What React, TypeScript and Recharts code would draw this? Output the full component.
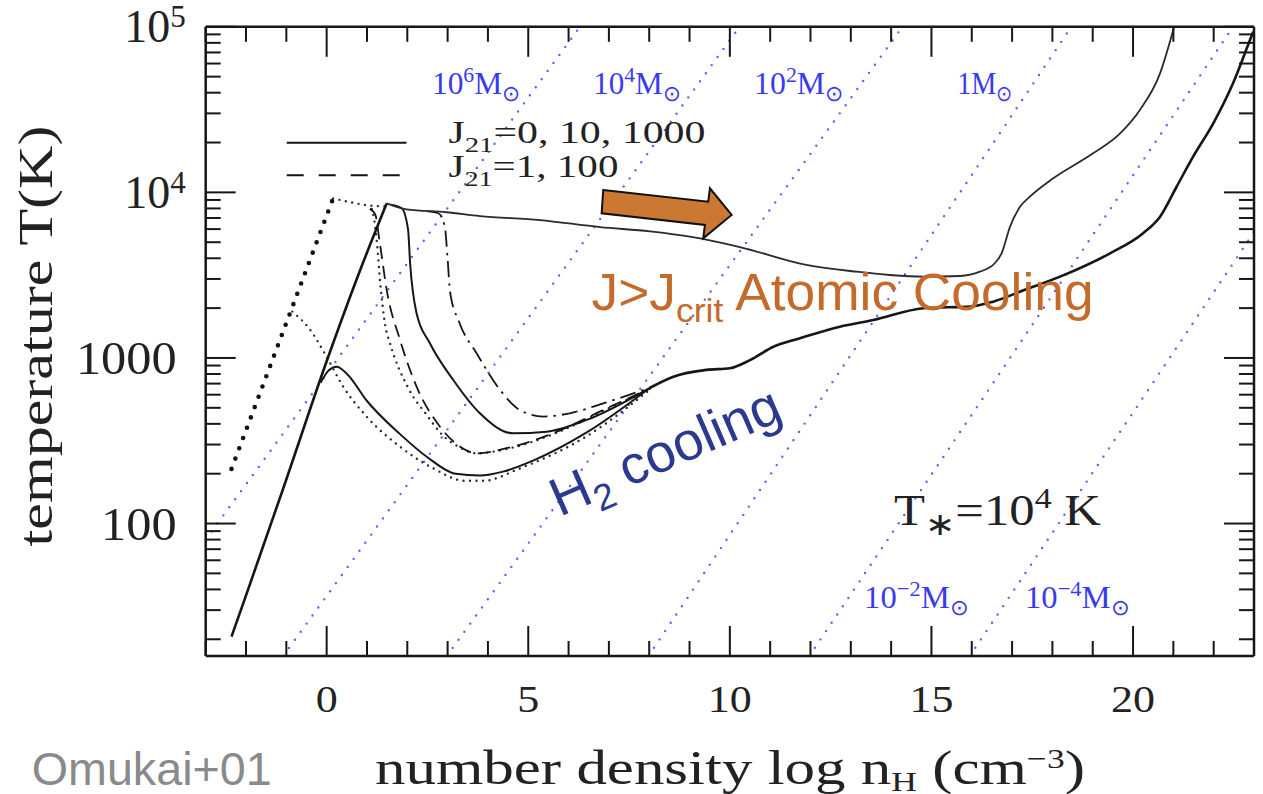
import React from 'react';
import { LineChart, Line, XAxis, YAxis, ReferenceDot } from 'recharts';

// Omukai+01 cooling tracks: x = log n_H [cm^-3], y = log T [K]
const SERIF = "'Liberation Serif', 'Times New Roman', serif";
const SANS = "'Liberation Sans', Arial, sans-serif";
const INK = '#161616';
const TEXT = '#222';
const MASS_TEXT = '#3a3af0';
const MASS_LINE = '#5f5fff';
const ORANGE = '#c46a2b';
const ARROW = '#cb7833';
const NAVY = '#2b3a8e';

// shared collapse from low density up to the ~8000 K peak
const riseCurve = [[-2.36, 1.317], [-1.98, 1.58], [-1.08, 2.21], [0, 2.98], [0.83, 3.53], [1.49, 3.934]];
// J21 = 1000 : stays atomic
const atomicJ1000 = [
  [1.49, 3.934], [1.98, 3.898], [2.97, 3.88], [3.8, 3.857], [5.29, 3.833], [6.78, 3.79], [8.02, 3.765],
  [9.01, 3.733], [10.25, 3.67], [11.9, 3.562], [13.14, 3.521], [13.97, 3.501], [14.8, 3.491], [15.71, 3.495],
  [16.2, 3.521], [16.57, 3.572], [16.74, 3.632], [16.95, 3.793], [17.2, 3.914], [17.44, 3.974], [18.02, 4.085],
  [19.01, 4.236], [19.68, 4.357], [20.17, 4.498], [20.67, 4.719], [21.02, 5.0],
];
// J21 = 0
const j0Solid = [
  [-0.15, 2.85], [0.05, 2.925], [0.25, 2.947], [0.5, 2.905], [1.0, 2.74], [1.82, 2.54], [2.5, 2.4],
  [3.2, 2.3], [3.8, 2.29], [4.4, 2.315], [5.12, 2.38], [6.45, 2.55], [8.02, 2.82],
];
// J21 = 10
const j10Solid = [
  [1.6, 3.925], [1.86, 3.904], [2.02, 3.773], [2.07, 3.572], [2.23, 3.27], [2.56, 3.089], [3.14, 2.867],
  [3.8, 2.666], [4.63, 2.545], [5.46, 2.555], [6.45, 2.626], [8.02, 2.82],
];
// J21 = 1 (dashed)
const j1Dashed = [
  [1.07, 3.9], [1.2, 3.87], [1.32, 3.692], [1.49, 3.41], [1.82, 3.109], [2.23, 2.827], [2.81, 2.585],
  [3.31, 2.464], [3.72, 2.424], [4.46, 2.455], [5.62, 2.545], [6.86, 2.686], [8.02, 2.817],
];
// J21 = 100 (dash-dot)
const j100DashDot = [
  [2.5, 3.886], [2.77, 3.874], [2.93, 3.793], [3.0, 3.6], [3.06, 3.4], [3.28, 3.22], [3.72, 3.028],
  [4.3, 2.807], [4.79, 2.686], [5.37, 2.646], [6.03, 2.666], [6.86, 2.726], [8.02, 2.82],
];
// dotted tracks
const thickDotted = [[-2.36, 2.33], [-0.91, 3.27], [0.16, 3.964]];
const dottedTop = [[0.16, 3.964], [0.6, 3.94], [0.99, 3.923], [1.45, 3.915]];
const dottedDrop = [
  [1.12, 3.9], [1.17, 3.85], [1.24, 3.712], [1.33, 3.45], [1.45, 3.2], [1.57, 3.09], [2.02, 2.82],
  [2.5, 2.65], [2.85, 2.54], [3.3, 2.46], [3.72, 2.424], [4.46, 2.45], [5.62, 2.54], [6.86, 2.68], [8.02, 2.815],
];
const dottedLow = [
  [-0.85, 3.28], [-0.41, 3.17], [0, 3.007], [0.41, 2.827], [0.99, 2.646], [1.82, 2.464], [2.64, 2.334],
  [3.43, 2.258], [3.88, 2.258], [4.78, 2.332], [6.42, 2.523], [8.02, 2.81],
];
// converged track at high density
const lowerCommon = [
  [8.02, 2.82], [8.6, 2.887], [9.42, 2.928], [10.0, 2.938], [10.5, 2.987], [11.08, 3.068], [11.74, 3.119],
  [12.73, 3.189], [13.56, 3.229], [14.8, 3.3], [15.4, 3.306], [15.95, 3.31], [16.53, 3.34], [17.3, 3.41],
  [18.19, 3.491], [19.43, 3.632], [20.25, 3.753], [20.67, 3.853], [21.08, 4.034], [21.49, 4.216],
  [21.99, 4.417], [22.48, 4.659], [22.9, 4.92], [22.98, 4.97],
];

// constant Jeans mass lines (endpoints on the frame)
const massLines = [
  [[-3, 1.903], [6.28, 5]],
  [[-1.08, 1.2], [10.24, 5]],
  [[2.98, 1.2], [14.28, 5]],
  [[7.98, 1.2], [18.47, 5]],
  [[11.97, 1.2], [22.48, 5]],
  [[15.95, 1.2], [23, 3.76]],
];
const massLabels = [
  { x: 2.61, y: 4.594, mant: '10', exp: '6', w: 88 },
  { x: 6.61, y: 4.594, mant: '10', exp: '4', w: 87 },
  { x: 10.6, y: 4.594, mant: '10', exp: '2', w: 89 },
  { x: 15.64, y: 4.594, mant: '1', exp: '', w: 55 },
  { x: 13.33, y: 1.489, mant: '10', exp: '\u22122', w: 104 },
  { x: 17.32, y: 1.489, mant: '10', exp: '\u22124', w: 104 },
];

const legendSolid = [[-0.99, 4.3], [1.98, 4.3]];
const legendDashed = [[-0.99, 4.103], [1.9, 4.103]];

const xTicks = Array.from({ length: 27 }, (_, i) => i - 3);
const xMajor = [0, 5, 10, 15, 20];
const yMajor = [2, 3, 4, 5];
const yMinor = [1, 2, 3, 4]
  .flatMap((d) => [2, 3, 4, 5, 6, 7, 8, 9].map((k) => d + Math.log10(k)))
  .filter((v) => v > 1.2);
const yTicks = [...yMinor, ...yMajor].sort((a, b) => a - b);

const pts = (a: number[][]) => a.map(([x, y]) => ({ x, y }));
const isMajorY = (v: number) => Math.abs(v - Math.round(v)) < 1e-6;

function BottomTick(p: any) {
  const v = p.payload.value;
  const major = xMajor.includes(v);
  const s = String(v);
  return (
    <g>
      <line x1={p.x} x2={p.x} y1={p.y} y2={p.y - (major ? 30 : 15)} stroke={INK} strokeWidth={2} />
      {major && (
        <text x={p.x} y={p.y + 56} textAnchor="middle" fontFamily={SERIF} fontSize={38} fill={TEXT}
          textLength={22 * s.length} lengthAdjust="spacingAndGlyphs">{s}</text>
      )}
    </g>
  );
}

function TopTick(p: any) {
  const major = xMajor.includes(p.payload.value);
  return <line x1={p.x} x2={p.x} y1={p.y} y2={p.y + (major ? 30 : 15)} stroke={INK} strokeWidth={2} />;
}

function LeftTick(p: any) {
  const v = p.payload.value;
  const major = isMajorY(v);
  let label = null;
  if (major) {
    const d = Math.round(v);
    if (d >= 4) {
      label = (
        <text x={p.x - 20} y={p.y + 15.5} textAnchor="end" fontFamily={SERIF} fontSize={46} fill={TEXT}>
          10<tspan dy={-15} fontSize={31}>{d}</tspan>
        </text>
      );
    } else {
      const s = d === 3 ? '1000' : '100';
      label = (
        <text x={p.x - 29} y={p.y + 16} textAnchor="end" fontFamily={SERIF} fontSize={46} fill={TEXT}
          textLength={25.2 * s.length} lengthAdjust="spacingAndGlyphs">{s}</text>
      );
    }
  }
  return (
    <g>
      <line x1={p.x} x2={p.x + (major ? 30 : 15)} y1={p.y} y2={p.y} stroke={INK} strokeWidth={2} />
      {label}
    </g>
  );
}

function RightTick(p: any) {
  const major = isMajorY(p.payload.value);
  return <line x1={p.x} x2={p.x - (major ? 30 : 15)} y1={p.y} y2={p.y} stroke={INK} strokeWidth={2} />;
}

const curve = (key: string, data: number[][], style: any) => (
  <Line key={key} data={pts(data)} dataKey="y" type="monotone" dot={false} activeDot={false}
    isAnimationActive={false} legendType="none" {...style} />
);

const anno = (key: string, x: number, y: number, render: (cx: number, cy: number) => any) => (
  <ReferenceDot key={key} x={x} y={y} r={0} ifOverflow="visible" shape={(p: any) => render(p.cx, p.cy)} />
);

const solid = (w: number) => ({ stroke: INK, strokeWidth: w });
const dots = (w: number, gap: number, color = '#2a2a2a') => ({
  stroke: color, strokeWidth: w, strokeDasharray: `0 ${gap}`, strokeLinecap: 'round',
});

export default function App() {
  return (
    <div style={{ position: 'absolute', left: 0, top: 0, width: 1263, height: 794, background: '#fff' }}>
      <LineChart width={1263} height={794} margin={{ top: 25.8, right: 8, bottom: 137, left: 204.7 }}>
        <XAxis dataKey="x" type="number" domain={[-3, 23]} allowDataOverflow ticks={xTicks} interval={0}
          height={1} tickSize={0} tickMargin={0} tickLine={false}
          axisLine={{ stroke: INK, strokeWidth: 2.5 }} tick={(p: any) => <BottomTick {...p} />} />
        <XAxis xAxisId="top" orientation="top" dataKey="x" type="number" domain={[-3, 23]} allowDataOverflow
          ticks={xTicks} interval={0} height={1} tickSize={0} tickMargin={0} tickLine={false}
          axisLine={{ stroke: INK, strokeWidth: 2.5 }} tick={(p: any) => <TopTick {...p} />} />
        <YAxis type="number" domain={[1.2, 5]} allowDataOverflow ticks={yTicks} interval={0} width={1}
          tickSize={0} tickMargin={0} tickLine={false} axisLine={{ stroke: INK, strokeWidth: 2.5 }}
          tick={(p: any) => <LeftTick {...p} />} />
        <YAxis yAxisId="right" orientation="right" type="number" domain={[1.2, 5]} allowDataOverflow
          ticks={yTicks} interval={0} width={1} tickSize={0} tickMargin={0} tickLine={false}
          axisLine={{ stroke: INK, strokeWidth: 2.5 }} tick={(p: any) => <RightTick {...p} />} />

        {/* text annotations */}
        {anno('titles', -3, 1.2, (cx, cy) => (
          <g>
            <text x={cx + 169.3} y={cy + 128} fontFamily={SERIF} fontSize={48} fill={TEXT}
              textLength={710} lengthAdjust="spacingAndGlyphs">
              number density log n<tspan dy={7} fontSize={28}>H</tspan>
              <tspan dy={-7}> (cm</tspan><tspan dy={-16} fontSize={28}>{'\u22123'}</tspan>
              <tspan dy={16}>)</tspan>
            </text>
            <text x={cx - 174} y={cy + 129} fontFamily={SANS} fontSize={46} fill="#8a8a8a"
              textLength={240} lengthAdjust="spacingAndGlyphs">Omukai+01</text>
            <text transform={`translate(${cx - 154},${cy - 320}) rotate(-90)`} textAnchor="middle"
              fontFamily={SERIF} fontSize={48} fill={TEXT} textLength={421} lengthAdjust="spacingAndGlyphs">
              temperature T(K)
            </text>
          </g>
        ))}
        {anno('hot', 6.57, 3.29, (cx, cy) => (
          <text x={cx} y={cy} fontFamily={SANS} fontSize={51} fill={ORANGE} textLength={502}
            lengthAdjust="spacingAndGlyphs">
            J&gt;J<tspan dy={12} fontSize={34}>crit</tspan><tspan dy={-12}> Atomic Cooling</tspan>
          </text>
        ))}
        {anno('h2', 5.78, 2.04, (cx, cy) => (
          <text x={cx} y={cy} transform={`rotate(-23.5 ${cx} ${cy})`} fontFamily={SANS} fontSize={54} fill={NAVY}>
            H<tspan dy={12} fontSize={37}>2</tspan><tspan dy={-12}> cooling</tspan>
          </text>
        ))}
        {anno('arrow', 6.82, 3.942, (cx, cy) => (
          <polygon
            points={[[1.6, -12], [106.6, -0.3], [108.3, -13.7], [130, 13], [101.6, 36.3], [103.3, 23], [0, 11.3]]
              .map(([dx, dy]) => `${cx + dx},${cy + dy}`).join(' ')}
            fill={ARROW} stroke="#111" strokeWidth={2} strokeLinejoin="miter" />
        ))}
        {anno('tstar', 14.07, 1.992, (cx, cy) => (
          <text x={cx} y={cy} fontFamily={SERIF} fontSize={45} fill={TEXT} textLength={207}
            lengthAdjust="spacingAndGlyphs">
            T<tspan dy={10} fontSize={32}>{'\u2217'}</tspan><tspan dy={-10}>=10</tspan>
            <tspan dy={-17} fontSize={30}>4</tspan><tspan dy={17}> K</tspan>
          </text>
        ))}
        {anno('leg1', 3.02, 4.298, (cx, cy) => (
          <text x={cx} y={cy} fontFamily={SERIF} fontSize={32} fill={TEXT} textLength={257}
            lengthAdjust="spacingAndGlyphs">
            J<tspan dy={9} fontSize={22}>21</tspan><tspan dy={-9}>=0,  10,  1000</tspan>
          </text>
        ))}
        {anno('leg2', 3.02, 4.095, (cx, cy) => (
          <text x={cx} y={cy} fontFamily={SERIF} fontSize={32} fill={TEXT} textLength={170}
            lengthAdjust="spacingAndGlyphs">
            J<tspan dy={9} fontSize={22}>21</tspan><tspan dy={-9}>=1,  100</tspan>
          </text>
        ))}
        {massLabels.map((m, i) =>
          anno(`m${i}`, m.x, m.y, (cx, cy) => (
            <text x={cx} y={cy} fontFamily={SERIF} fontSize={32} fill={MASS_TEXT} textLength={m.w}
              lengthAdjust="spacingAndGlyphs">
              {m.mant}
              {m.exp ? <tspan dy={-12} fontSize={22}>{m.exp}</tspan> : null}
              <tspan dy={m.exp ? 12 : 0}>M</tspan>
              <tspan dy={7} fontSize={22}>{'\u2299'}</tspan>
            </text>
          )),
        )}

        {/* mass lines */}
        {massLines.map((l, i) => curve(`ml${i}`, l, { type: 'linear', ...dots(2.4, 10, MASS_LINE) }))}

        {/* legend keys */}
        {curve('legS', legendSolid, { type: 'linear', ...solid(2) })}
        {curve('legD', legendDashed, { type: 'linear', ...solid(2), strokeDasharray: '17 15' })}

        {/* tracks */}
        {curve('thickDot', thickDotted, { type: 'linear', ...dots(4.6, 11, '#111') })}
        {curve('dotTop', dottedTop, dots(2.4, 6.5))}
        {curve('dotDrop', dottedDrop, dots(2.4, 6.5))}
        {curve('dotLow', dottedLow, dots(2.4, 6.5))}
        {curve('j1', j1Dashed, { ...solid(1.8), strokeDasharray: '13 7' })}
        {curve('j100', j100DashDot, { ...solid(1.8), strokeDasharray: '16 6 2.5 6' })}
        {curve('j10', j10Solid, solid(2))}
        {curve('j0', j0Solid, solid(2))}
        {curve('atomic', atomicJ1000, { stroke: '#2a2a2a', strokeWidth: 1.8 })}
        {curve('rise', riseCurve, solid(2.6))}
        {curve('lower', lowerCommon, solid(2.6))}
      </LineChart>
    </div>
  );
}
